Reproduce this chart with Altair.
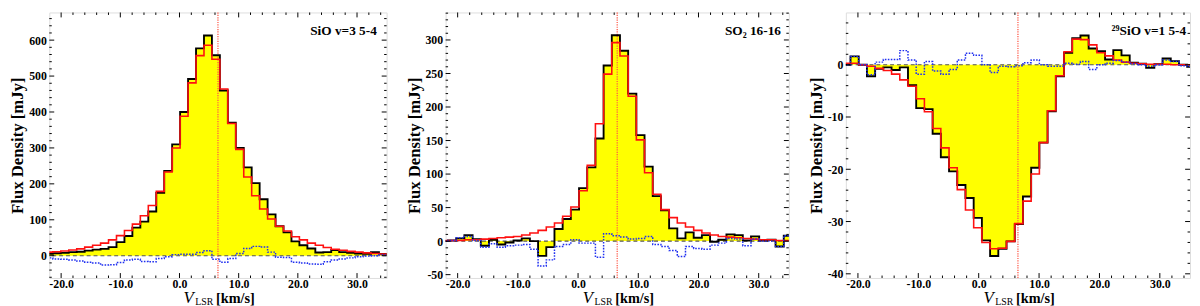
import altair as alt
import pandas as pd

FONT = "Liberation Serif"
X_DOMAIN = [-22, 35]
VLINE = [6.5]

# ---------------- Panel 1: SiO v=3 5-4 ----------------
v1 = [-23.41, -22.07, -20.73, -19.38, -18.04, -16.69, -15.35, -14.01, -12.66, -11.32,
      -9.97, -8.63, -7.29, -5.94, -4.60, -3.25, -1.91, -0.57, 0.78, 2.12,
      3.47, 4.81, 6.15, 7.50, 8.84, 10.19, 11.53, 12.87, 14.22, 15.56,
      16.91, 18.25, 19.59, 20.94, 22.28, 23.63, 24.97, 26.31, 27.66, 29.00,
      30.35, 31.69, 33.03, 34.38, 35.72]
obs1 = [4, 5, 7, 8, 10, 11, 14, 17, 19, 24,
        38, 55, 78, 95, 123, 175, 236, 310, 400, 492,
        577, 613, 558, 460, 370, 300, 246, 202, 157, 115,
        82, 65, 40, 29, 20, 9, 10, 16, 10, 8,
        6, 5, 10, 5, 4]
mod1 = [9, 10, 11, 13, 16, 19, 24, 29, 35, 44,
        56, 70, 88, 111, 140, 179, 233, 300, 388, 481,
        557, 586, 547, 464, 368, 296, 219, 167, 130, 102,
        82, 69, 53, 44, 35, 29, 23, 18, 15, 12,
        10, 8, 6, 5, 4]
res1 = [-6, -6, -9, -10, -12, -15, -18, -20, -26, -25,
        -19, -12, -10, -16, -17, -8, -3, 3, 4, 4,
        9, 14, -10, -18, -8, 6, 20, 26, 24, 10,
        -4, -5, -18, -20, -23, -24, -17, -12, -9, -6,
        -3, -1, 0, 2, 2]
y1_domain = [-62, 677]
y1_major = [0, 100, 200, 300, 400, 500, 600]
y1_minor = [-60, -40, -20, 20, 40, 60, 80, 120, 140, 160, 180, 220, 240, 260, 280,
            320, 340, 360, 380, 420, 440, 460, 480, 520, 540, 560, 580, 620, 640, 660]

# ---------------- Panel 2: SO2 16-16 ----------------
v2 = [-23.64, -22.28, -20.92, -19.56, -18.20, -16.84, -15.48, -14.12, -12.76, -11.40,
      -10.04, -8.68, -7.32, -5.96, -4.60, -3.24, -1.88, -0.52, 0.84, 2.20,
      3.56, 4.92, 6.28, 7.64, 9.00, 10.36, 11.72, 13.08, 14.44, 15.80,
      17.16, 18.52, 19.88, 21.24, 22.60, 23.96, 25.32, 26.68, 28.04, 29.40,
      30.76, 32.12, 33.48, 34.84, 36.20]
obs2 = [0, 0, 1, 4, 9, 3, -7, 2, -5, -2,
        1, 4, 0, -22, -9, 18, 33, 47, 79, 110,
        153, 262, 307, 284, 220, 158, 111, 67, 46, 19,
        4, 13, 5, 9, -1, 2, 10, 9, 1, 7,
        1, 2, -8, 8, 8]
mod2 = [0, 1, 1, 1, 2, 2, 3, 4, 5, 6,
        7, 9, 12, 16, 21, 27, 37, 51, 75, 113,
        175, 249, 296, 276, 216, 151, 102, 70, 47, 35,
        27, 21, 16, 12, 9, 7, 6, 5, 4, 3,
        2, 2, 1, 1, 1]
res2 = [0, 0, 1, 5, 7, 1, -9, -4, -9, -7,
        -6, -5, -12, -37, -28, -8, -5, 2, -3, -3,
        -24, 11, 8, 6, 3, 4, 7, -5, -8, -14,
        -23, -8, -11, -12, -6, -3, 4, 3, -7, 3,
        0, 0, -8, 8, 8]
y2_domain = [-55, 341]
y2_major = [-50, 0, 50, 100, 150, 200, 250, 300]
y2_minor = [-40, -30, -20, -10, 10, 20, 30, 40, 60, 70, 80, 90, 110, 120, 130, 140,
            160, 170, 180, 190, 210, 220, 230, 240, 260, 270, 280, 290, 310, 320, 330, 340]

# ---------------- Panel 3: 29SiO v=1 5-4 ----------------
v3 = [-23.27, -21.91, -20.55, -19.19, -17.83, -16.47, -15.11, -13.75, -12.39, -11.03,
      -9.67, -8.31, -6.95, -5.59, -4.23, -2.87, -1.51, -0.15, 1.21, 2.57,
      3.93, 5.29, 6.65, 8.01, 9.37, 10.73, 12.09, 13.45, 14.81, 16.17,
      17.53, 18.89, 20.25, 21.61, 22.97, 24.33, 25.69, 27.05, 28.41, 29.77,
      31.13, 32.49, 33.85, 35.21]
obs3 = [0, 0, 1.6, 0, -2.2, -0.8, -0.5, -1.0, -0.5, -3.9,
        -8.3, -8.5, -13.2, -17.7, -20.4, -23.0, -25.5, -29.3, -33.6, -36.6,
        -35.2, -33.8, -30.5, -25.2, -19.7, -14.9, -8.9, -2.2, 2.3, 5.1,
        5.6, 3.1, 2.6, 1.0, 2.8, 1.8, 0.4, 0.2, -0.6, 0.1,
        1.2, 0.7, 0, -0.4]
mod3 = [0.3, 0.3, 0.3, 0, -0.3, -0.7, -1.1, -1.8, -2.9, -4.1,
        -6.5, -9.0, -12.2, -15.9, -19.7, -23.9, -27.8, -31.2, -34.0, -35.2,
        -35.1, -33.8, -30.4, -26.1, -20.9, -14.9, -8.8, -2.1, 2.5, 4.9,
        4.8, 3.8, 2.3, 1.7, 0.9, 0.5, 0.3, 0.2, 0.1, 0.1,
        0.1, 0, 0, 0]
res3 = [0, 0, 1.6, 0, -1.9, 0.5, 1.0, 1.0, 2.7, 0.9,
        -1.8, 0.6, -1.2, -1.8, -0.9, 0.9, 2.2, 1.8, 0, -1.5,
        -0.3, -0.4, -0.2, 0.4, 0.9, 0.0, -0.3, -0.3, 0.3, 0.1,
        0.6, -0.9, 0, 0.3, 0.8, 0.5, 0.2, 0, -0.3, 0,
        0.9, 0.6, -0.2, -0.3]
y3_domain = [-40.8, 10]
y3_major = [-40, -30, -20, -10, 0]
y3_minor = [-38, -36, -34, -32, -28, -26, -24, -22, -18, -16, -14, -12,
            -8, -6, -4, -2, 2, 4, 6, 8]

x_major = [-20, -10, 0, 10, 20, 30]
x_minor = [-18, -16, -14, -12, -8, -6, -4, -2, 2, 4, 6, 8, 12, 14, 16, 18,
           22, 24, 26, 28, 32, 34]

x_title_parts = ["V", "LSR", "[km/s]"]
y_title = "Flux Density [mJy]"
labels = ["SiO v=3 5-4", "SO\u2082 16-16", "\u00b2\u2079SiO v=1 5-4"]

H = 270
MAJ = 5
MIN = 2.5


def panel(v, obs, mod, res, ydom, ymaj, ymin, label, W, label_dx):
    df = pd.DataFrame({"v": v, "obs": obs, "mod": mod, "res": res})
    xs = alt.Scale(domain=X_DOMAIN, nice=False, zero=False)
    ys = alt.Scale(domain=ydom, nice=False, zero=False)
    xax = alt.Axis(values=x_major, format=".1f",
                   labelExpr="replace(datum.label, '\u2212', '-')",
                   ticks=False, domain=False, grid=False, title=None,
                   labelFont=FONT, labelFontWeight="bold", labelFontSize=12,
                   labelColor="black", labelPadding=1)
    yax = alt.Axis(values=ymaj, format="d",
                   labelExpr="replace(datum.label, '\u2212', '-')",
                   ticks=False, domain=False, grid=False, title=y_title,
                   labelFont=FONT, labelFontWeight="bold", labelFontSize=12,
                   labelColor="black", labelPadding=3,
                   titleFont=FONT, titleFontWeight="bold", titleFontSize=17,
                   titleColor="black", titlePadding=2)

    def X(f):
        return alt.X(f, scale=xs, axis=xax)

    def Y(f):
        return alt.Y(f, scale=ys, axis=yax)

    base = alt.Chart(df)
    area = base.mark_area(interpolate="step", color="#ffff00", clip=True).encode(
        x=X("v:Q"), y=Y("obs:Q"))
    vline = alt.Chart(pd.DataFrame({"x": VLINE})).mark_rule(
        color="#ff5a4a", strokeDash=[1.2, 1.2], strokeWidth=1.3).encode(x=X("x:Q"))
    zero = alt.Chart(pd.DataFrame({"z": [0]})).mark_rule(
        color="#555555", strokeDash=[4, 3], strokeWidth=1.1).encode(y=Y("z:Q"))
    l_obs = base.mark_line(interpolate="step", color="black", strokeWidth=1.9,
                           clip=True).encode(x=X("v:Q"), y=Y("obs:Q"))
    l_mod = base.mark_line(interpolate="step", color="#ff1010", strokeWidth=1.6,
                           clip=True).encode(x=X("v:Q"), y=Y("mod:Q"))
    l_res = base.mark_line(interpolate="step", color="#2030f0", strokeWidth=1.5,
                           strokeDash=[1.6, 1.4], clip=True).encode(
        x=X("v:Q"), y=Y("res:Q"))

    tx_maj = pd.DataFrame({"t": x_major})
    tx_min = pd.DataFrame({"t": x_minor})
    ty_maj = pd.DataFrame({"t": ymaj})
    ty_min = pd.DataFrame({"t": ymin})
    ticks = []
    for d, ln in ((tx_maj, MAJ), (tx_min, MIN)):
        c = alt.Chart(d).mark_rule(color="black", strokeWidth=1)
        ticks.append(c.encode(x=X("t:Q"), y=alt.value(H), y2=alt.value(H - ln)))
        ticks.append(c.encode(x=X("t:Q"), y=alt.value(0), y2=alt.value(ln)))
    for d, ln in ((ty_maj, MAJ), (ty_min, MIN)):
        c = alt.Chart(d).mark_rule(color="black", strokeWidth=1)
        ticks.append(c.encode(y=Y("t:Q"), x=alt.value(0), x2=alt.value(ln)))
        ticks.append(c.encode(y=Y("t:Q"), x=alt.value(W), x2=alt.value(W - ln)))

    lab = alt.Chart(pd.DataFrame({"s": [label]})).mark_text(
        align="right", baseline="middle", font=FONT, fontWeight="bold",
        fontSize=13.5, color="black").encode(
        x=alt.value(W - label_dx), y=alt.value(19), text="s:N")

    xt = pd.DataFrame({"s": x_title_parts})
    t_v = alt.Chart(xt.iloc[[0]]).mark_text(
        align="left", baseline="alphabetic", font=FONT, fontStyle="italic",
        fontSize=17, color="black").encode(
        x=alt.value(W / 2 - 35), y=alt.value(H + 25), text="s:N")
    t_lsr = alt.Chart(xt.iloc[[1]]).mark_text(
        align="left", baseline="alphabetic", font=FONT, fontSize=10,
        color="black").encode(
        x=alt.value(W / 2 - 23), y=alt.value(H + 27), text="s:N")
    t_u = alt.Chart(xt.iloc[[2]]).mark_text(
        align="left", baseline="alphabetic", font=FONT, fontWeight="bold",
        fontSize=14.5, color="black").encode(
        x=alt.value(W / 2 - 2), y=alt.value(H + 25), text="s:N")

    return alt.layer(area, vline, zero, l_obs, l_mod, l_res, *ticks, lab,
                     t_v, t_lsr, t_u).properties(width=W, height=H)


p1 = panel(v1, obs1, mod1, res1, y1_domain, y1_major, y1_minor, labels[0], 343, 10)
p2 = panel(v2, obs2, mod2, res2, y2_domain, y2_major, y2_minor, labels[1], 349, 8)
p3 = panel(v3, obs3, mod3, res3, y3_domain, y3_major, y3_minor, labels[2], 350, 4)

chart = alt.hconcat(p1, p2, p3, spacing=16).properties(padding=0).configure_view(
    stroke="black", strokeWidth=1.5).configure(background="white")

chart.save("out.html", embed_options={"renderer": "svg", "actions": False})
